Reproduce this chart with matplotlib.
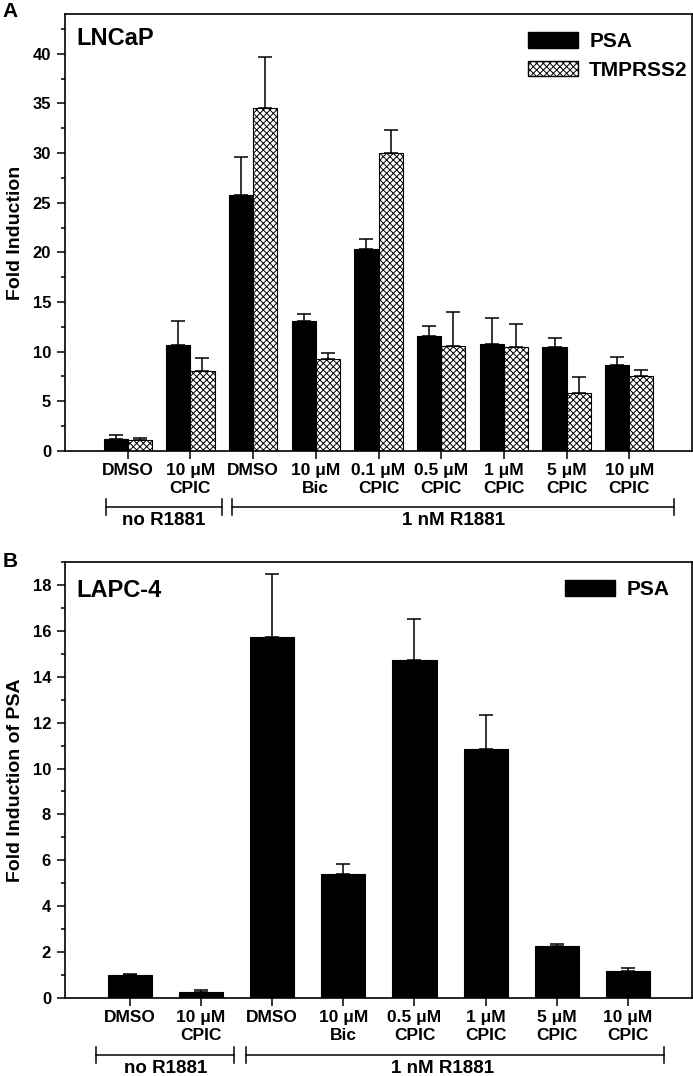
import numpy as np
import matplotlib
matplotlib.use("Agg")
import matplotlib.pyplot as plt
from matplotlib.patches import Patch
from matplotlib.ticker import MultipleLocator
import matplotlib.transforms as mtrans

plt.rcParams['font.family'] = ['Liberation Sans', 'DejaVu Sans']
plt.rcParams['font.weight'] = 'bold'
plt.rcParams['hatch.linewidth'] = 0.7

# panel A - LNCaP
labels_a = ["DMSO", "10 μM\nCPIC", "DMSO", "10 μM\nBic", "0.1 μM\nCPIC",
            "0.5 μM\nCPIC", "1 μM\nCPIC", "5 μM\nCPIC", "10 μM\nCPIC"]
psa_a = [1.18, 10.65, 25.75, 13.05, 20.35, 11.6, 10.78, 10.5, 8.7]
psa_a_err = [0.4, 2.4, 3.85, 0.75, 1.0, 1.0, 2.6, 0.9, 0.8]
tmp_a = [1.1, 8.1, 34.5, 9.3, 30.05, 10.58, 10.5, 5.87, 7.59]
tmp_a_err = [0.2, 1.28, 5.15, 0.6, 2.3, 3.4, 2.25, 1.55, 0.6]

# panel B - LAPC-4
labels_b = ["DMSO", "10 μM\nCPIC", "DMSO", "10 μM\nBic",
            "0.5 μM\nCPIC", "1 μM\nCPIC", "5 μM\nCPIC", "10 μM\nCPIC"]
psa_b = [1.02, 0.28, 15.72, 5.41, 14.71, 10.85, 2.28, 1.16]
psa_b_err = [0.03, 0.05, 2.74, 0.42, 1.82, 1.47, 0.06, 0.15]

fig = plt.figure(figsize=(6.93, 10.76), dpi=100)


def style_axis(ax, ymax, major, minor):
    ax.set_ylim(0, ymax)
    ax.yaxis.set_major_locator(MultipleLocator(major))
    ax.yaxis.set_minor_locator(MultipleLocator(minor))
    for s in ax.spines.values():
        s.set_linewidth(1.2)
    ax.tick_params(axis='y', which='major', length=6, width=1.1, labelsize=12, pad=4)
    ax.tick_params(axis='y', which='minor', length=3, width=1.1)
    ax.tick_params(axis='x', which='major', length=6, width=1.1, labelsize=12.5, pad=3)
    for t in ax.get_yticklabels():
        t.set_fontweight('bold')


def bracket(ax, x0, x1, y, text, tx):
    tr = mtrans.blended_transform_factory(ax.transData, ax.transAxes)
    ax.plot([x0, x1], [y, y], color='black', lw=1.1, transform=tr, clip_on=False)
    for x in (x0, x1):
        ax.plot([x, x], [y - 0.018, y + 0.018], color='black', lw=1.1,
                transform=tr, clip_on=False)
    ax.text(tx, y - 0.031, text, transform=tr, ha='center', va='center',
            fontsize=13.5, fontweight='bold')


# ---- panel A
ax1 = fig.add_axes([0.0938, 0.5809, 0.9048, 0.4061])
x = np.arange(len(labels_a))
w = 0.385
ax1.bar(x - w / 2, psa_a, w, color='black', edgecolor='black', lw=0.8,
        yerr=[np.zeros(len(x)), psa_a_err], capsize=5,
        error_kw=dict(elinewidth=1.1, capthick=1.1, ecolor='black'))
ax1.bar(x + w / 2, tmp_a, w, color='white', edgecolor='black', lw=0.8, hatch='xxxxx',
        yerr=[np.zeros(len(x)), tmp_a_err], capsize=5,
        error_kw=dict(elinewidth=1.1, capthick=1.1, ecolor='black'))
ax1.set_xlim(-1, len(labels_a))
ax1.set_xticks(x)
ax1.set_xticklabels(labels_a, fontweight='bold')
style_axis(ax1, 44, 5, 2.5)
ax1.set_ylabel("Fold Induction", fontsize=14, fontweight='bold')
ax1.yaxis.set_label_coords(-0.066, 0.5)
ax1.text(0.0175, 0.97, "LNCaP", transform=ax1.transAxes, fontsize=17,
         fontweight='bold', va='top', ha='left')
ax1.legend(handles=[Patch(facecolor='black', edgecolor='black', label='PSA'),
                    Patch(facecolor='white', edgecolor='black', hatch='xxxxx', label='TMPRSS2')],
           loc='upper left', bbox_to_anchor=(0.738, 0.958), frameon=False,
           borderpad=0, borderaxespad=0, handlelength=2.4, handleheight=0.75,
           handletextpad=0.55, labelspacing=0.45, prop=dict(size=15, weight='bold'))
bracket(ax1, -0.35, 1.5, -0.128, "no R1881", 0.58)
bracket(ax1, 1.66, 8.72, -0.128, "1 nM R1881", 5.2)

# ---- panel B
ax2 = fig.add_axes([0.0938, 0.0725, 0.9048, 0.4052])
xb = np.arange(len(labels_b))
ax2.bar(xb, psa_b, 0.62, color='black', edgecolor='black', lw=0.8,
        yerr=[np.zeros(len(xb)), psa_b_err], capsize=5,
        error_kw=dict(elinewidth=1.1, capthick=1.1, ecolor='black'))
ax2.set_xlim(-0.91, 7.9)
ax2.set_xticks(xb)
ax2.set_xticklabels(labels_b, fontweight='bold')
style_axis(ax2, 19, 2, 1)
ax2.set_ylabel("Fold Induction of PSA", fontsize=14, fontweight='bold')
ax2.yaxis.set_label_coords(-0.066, 0.5)
ax2.text(0.0175, 0.96, "LAPC-4", transform=ax2.transAxes, fontsize=17,
         fontweight='bold', va='top', ha='left')
ax2.legend(handles=[Patch(facecolor='black', edgecolor='black', label='PSA')],
           loc='upper left', bbox_to_anchor=(0.797, 0.958), frameon=False,
           borderpad=0, borderaxespad=0, handlelength=2.4, handleheight=0.75,
           handletextpad=0.55, prop=dict(size=15, weight='bold'))
bracket(ax2, -0.48, 1.46, -0.131, "no R1881", 0.5)
bracket(ax2, 1.63, 7.5, -0.131, "1 nM R1881", 4.4)

fig.text(0.004, 0.998, "A", fontsize=15, fontweight='bold', va='top', ha='left')
fig.text(0.004, 0.487, "B", fontsize=15, fontweight='bold', va='top', ha='left')

fig.savefig("out.png", dpi=100)
